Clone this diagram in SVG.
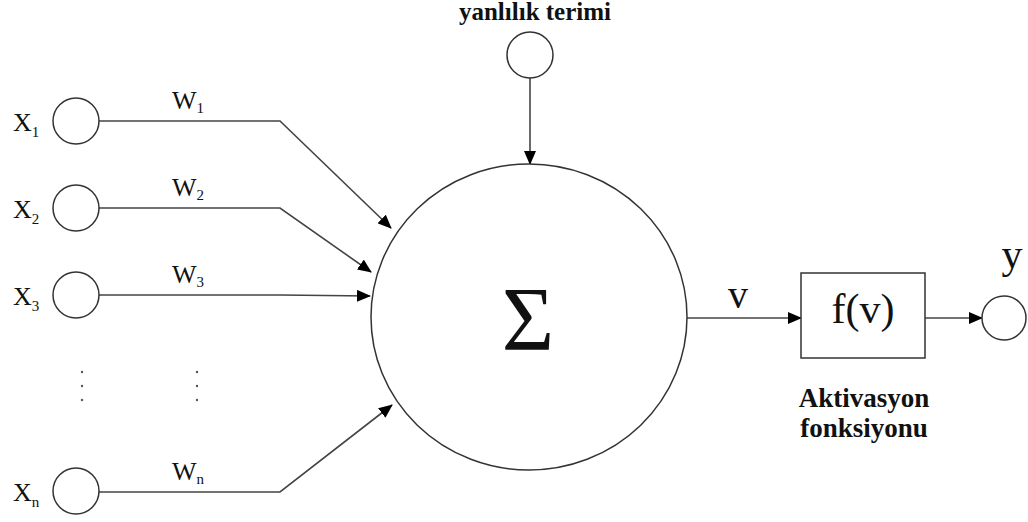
<svg xmlns="http://www.w3.org/2000/svg" width="1028" height="522" viewBox="0 0 1028 522">
<defs>
<marker id="ah" markerWidth="14" markerHeight="12" refX="13" refY="6" orient="auto" markerUnits="userSpaceOnUse">
<path d="M0,0 L14,6 L0,12 Z" fill="#000"/>
</marker>
<style>
.n{fill:#fff;stroke:#333;stroke-width:1.5}
.c{fill:none;stroke:#444;stroke-width:1.6}
text{font-family:"Liberation Serif","Times New Roman",Tinos,"DejaVu Serif",serif;fill:#111}
.b{font-weight:bold}
.d{fill:#555}
</style>
</defs>
<rect width="1028" height="522" fill="#fff"/>
<g id="connectors">
<polyline class="c" points="99,121 280,121 391,228" marker-end="url(#ah)"/>
<polyline class="c" points="99,208 280,208 371,272" marker-end="url(#ah)"/>
<polyline class="c" points="99,295 280,295 370,296" marker-end="url(#ah)"/>
<polyline class="c" points="99,492 280,492 392,405" marker-end="url(#ah)"/>
<line class="c" x1="530" y1="78" x2="530" y2="164" marker-end="url(#ah)"/>
<line class="c" x1="687" y1="318" x2="801" y2="318" marker-end="url(#ah)"/>
<line class="c" x1="925" y1="318" x2="982" y2="318" marker-end="url(#ah)"/>
</g>
<g font-family="Liberation Serif, serif">
<g id="x1"><circle class="n" cx="76" cy="121" r="23"/><text x="13" y="131" font-size="26">X<tspan font-size="15" dy="6">1</tspan></text></g>
<g id="x2"><circle class="n" cx="76" cy="208" r="23"/><text x="13" y="218" font-size="26">X<tspan font-size="15" dy="6">2</tspan></text></g>
<g id="x3"><circle class="n" cx="76" cy="295" r="23"/><text x="13" y="305" font-size="26">X<tspan font-size="15" dy="6">3</tspan></text></g>
<g id="xn"><circle class="n" cx="76" cy="491" r="23"/><text x="13" y="501" font-size="26">X<tspan font-size="15" dy="6">n</tspan></text></g>
<g id="weights">
<text x="172" y="109" font-size="26">W<tspan font-size="15" dy="4">1</tspan></text>
<text x="172" y="196" font-size="26">W<tspan font-size="15" dy="4">2</tspan></text>
<text x="172" y="283" font-size="26">W<tspan font-size="15" dy="4">3</tspan></text>
<text x="172" y="480" font-size="26">W<tspan font-size="15" dy="4">n</tspan></text>
</g>
<g id="dots">
<circle class="d" cx="82" cy="372" r="1.2"/><circle class="d" cx="82" cy="386" r="1.2"/><circle class="d" cx="82" cy="400" r="1.2"/>
<circle class="d" cx="197" cy="372" r="1.2"/><circle class="d" cx="197" cy="386" r="1.2"/><circle class="d" cx="197" cy="400" r="1.2"/>
</g>
<g id="bias"><circle class="n" cx="530" cy="55" r="23"/><text class="b" x="535" y="20" font-size="25" text-anchor="middle">yanlılık terimi</text></g>
<g id="sum"><ellipse class="n" cx="529" cy="317" rx="158" ry="153"/><text x="528" y="350" font-size="90" text-anchor="middle">Σ</text></g>
<g id="vlabel"><text x="738" y="308" font-size="40" text-anchor="middle">v</text></g>
<g id="activation"><rect class="n" x="801" y="273" width="124" height="85"/><text x="863" y="323" font-size="42" text-anchor="middle">f(v)</text>
<text class="b" x="864" y="407" font-size="27" text-anchor="middle">Aktivasyon</text>
<text class="b" x="864" y="437" font-size="27" text-anchor="middle">fonksiyonu</text></g>
<g id="output"><circle class="n" cx="1004" cy="318" r="22"/><text x="1012" y="268" font-size="42" text-anchor="middle">y</text></g>
</g>
</svg>
